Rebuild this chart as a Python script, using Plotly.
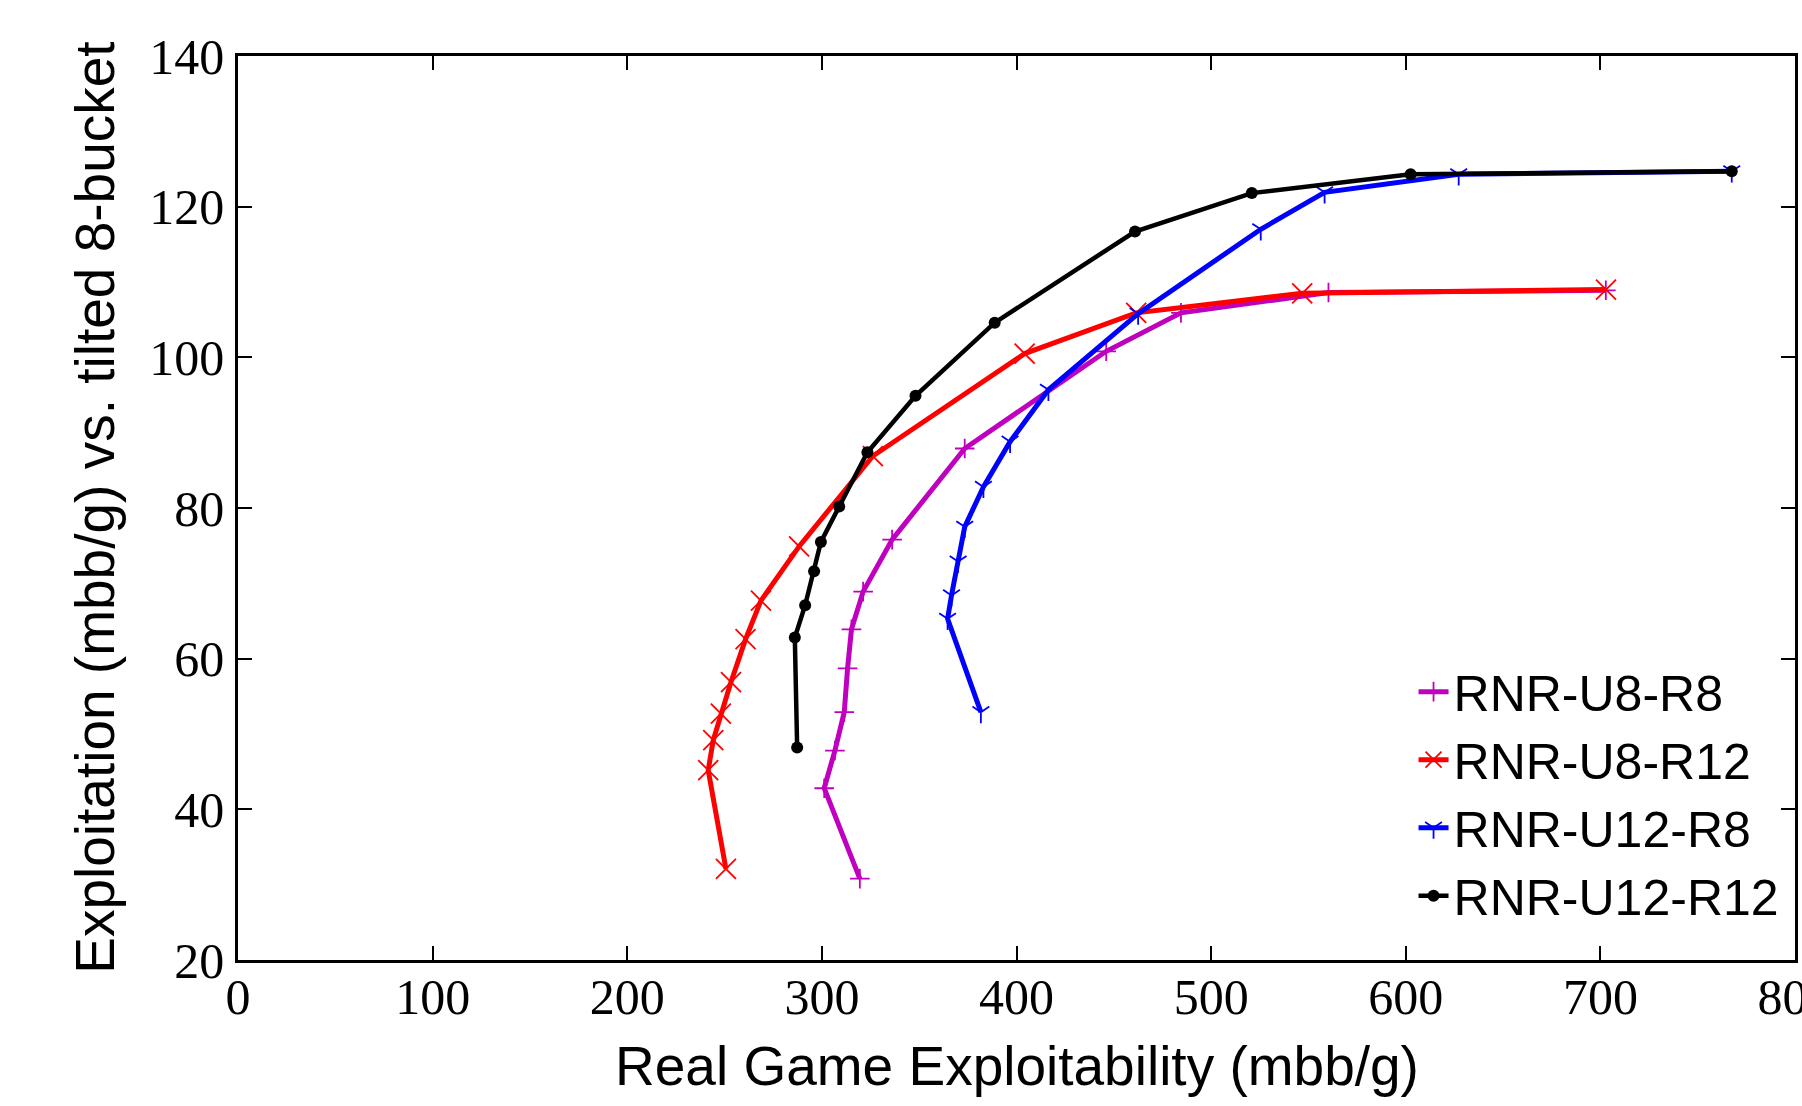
import plotly.graph_objects as go

# ---- data ----
series_names = ["RNR-U8-R8", "RNR-U8-R12", "RNR-U12-R8", "RNR-U12-R12"]

u8r8_x = [319.5, 301.2, 306.7, 311.5, 313.2, 315.2, 321.2, 336.1, 373.4, 446.1, 484.5, 560.3, 702.8]
u8r8_y = [30.8, 42.8, 47.8, 52.9, 58.7, 63.9, 68.9, 75.8, 87.9, 100.8, 105.9, 108.6, 108.9]

u8r12_x = [250.7, 241.6, 244.2, 248.1, 253.3, 260.8, 268.7, 288.3, 326.2, 404.2, 461.5, 546.8, 702.9]
u8r12_y = [32.1, 45.2, 49.2, 52.7, 56.9, 62.6, 67.7, 74.9, 86.9, 100.5, 105.9, 108.5, 109.0]

u12r8_x = [381.7, 364.6, 366.6, 370.0, 373.4, 383.0, 396.7, 416.4, 462.5, 525.5, 558.3, 627.2, 767.5]
u12r8_y = [52.9, 65.3, 68.4, 72.9, 77.5, 82.8, 88.8, 95.7, 105.8, 117.0, 121.9, 124.3, 124.7]

u12r12_x = [287.3, 286.1, 291.4, 296.0, 299.5, 308.9, 323.4, 348.1, 388.8, 460.9, 520.9, 602.5, 767.5]
u12r12_y = [48.2, 62.8, 67.1, 71.6, 75.5, 80.2, 87.4, 94.9, 104.6, 116.7, 121.8, 124.3, 124.7]

x_ticks = [0, 100, 200, 300, 400, 500, 600, 700, 800]
y_ticks = [20, 40, 60, 80, 100, 120, 140]

x_title = "Real Game Exploitability (mbb/g)"
y_title = "Exploitation (mbb/g) vs. tilted 8-bucket"

# ---- figure ----
fig = go.Figure()

styles = [
    dict(color="#BF00BF", symbol="cross-thin", size=14, lw=5),
    dict(color="#FF0000", symbol="x-thin", size=20, lw=5),
    dict(color="#0000FF", symbol="y-down", size=14, lw=5),
    dict(color="#000000", symbol="circle", size=12, lw=4.5),
]
xs = [u8r8_x, u8r12_x, u12r8_x, u12r12_x]
ys = [u8r8_y, u8r12_y, u12r8_y, u12r12_y]

for name, x, y, st in zip(series_names, xs, ys, styles):
    fig.add_trace(go.Scatter(
        x=x, y=y, name=name, mode="lines+markers",
        line=dict(color=st["color"], width=st["lw"]),
        marker=dict(symbol=st["symbol"], size=st["size"], color=st["color"],
                    line=dict(color=st["color"], width=1.8 if st["symbol"] != "circle" else 0)),
    ))

axis_common = dict(
    showline=True, linecolor="black", linewidth=2.5, mirror="allticks",
    ticks="inside", ticklen=14, tickwidth=1.5, tickcolor="black",
    showgrid=False, zeroline=False, ticklabeloverflow="allow", automargin=False,
    tickfont=dict(family="Liberation Serif", size=50, color="black"),
)

fig.update_layout(
    width=1802, height=1106,
    margin=dict(l=238, r=7, t=56, b=146, autoexpand=False),
    paper_bgcolor="white", plot_bgcolor="white",
    xaxis=dict(range=[0, 800], tickvals=x_ticks, ticktext=[str(v) for v in x_ticks],
               ticklabelstandoff=-9, **axis_common),
    yaxis=dict(range=[20, 140], tickvals=y_ticks, ticktext=[str(v) for v in y_ticks],
               ticklabelstandoff=1, **axis_common),
    legend=dict(x=0.755, y=0.34, xanchor="left", yanchor="top",
                bgcolor="rgba(0,0,0,0)", borderwidth=0,
                font=dict(family="Liberation Sans", size=50, color="black"),
                itemwidth=30),
    showlegend=True,
)

fig.add_annotation(text=x_title, xref="paper", yref="paper", x=0.5, y=-0.117,
                   xanchor="center", yanchor="middle", showarrow=False,
                   font=dict(family="Liberation Sans", size=55, color="black"))
fig.add_annotation(text=y_title, xref="paper", yref="paper", x=-0.092, y=0.5,
                   xanchor="center", yanchor="middle", showarrow=False, textangle=-90,
                   font=dict(family="Liberation Sans", size=55, color="black"))

fig.write_html("out.html")
